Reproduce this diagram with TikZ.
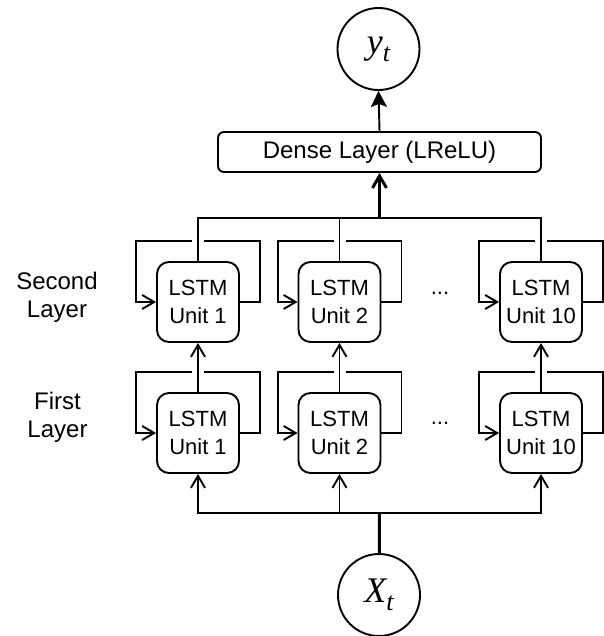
\documentclass[tikz,border=0pt]{standalone}
\usepackage{fontspec}
\setmainfont{Liberation Sans}
\newfontfamily\timesit{Liberation Serif}
\usetikzlibrary{arrows.meta}
\tikzset{
        >={Straight Barb[length=12pt,width=14pt]},
        wire/.style={line width=1.9pt},
        thickwire/.style={line width=3pt},
        lstmbox/.style={draw, line width=1.9pt, rounded corners=12pt, minimum width=82pt, minimum height=80pt, align=center, inner sep=0pt, font=\fontsize{22}{28}\selectfont},
        densebox/.style={draw, line width=1.9pt, rounded corners=6pt, minimum width=323pt, minimum height=40pt, inner sep=0pt, font=\fontsize{24}{28}\selectfont},
        varnode/.style={draw, circle, line width=1.9pt, minimum size=82pt, inner sep=0pt, font=\timesit\itshape\fontsize{36}{36}\selectfont},
        layerlabel/.style={align=center, inner sep=0pt, font=\fontsize{24}{28}\selectfont},
        dotsnode/.style={anchor=base, inner sep=0pt, font=\fontsize{22}{28}\selectfont}
}

\begin{document}
\begin{tikzpicture}[x=1pt,y=-1pt]
        \useasboundingbox (0,0) rectangle (603,636);
        \node[varnode] (yt) at (378.5,49) {\raisebox{-4pt}{y\raisebox{-8pt}{\fontsize{26}{26}\selectfont t}}};
        \node[densebox] (dense) at (379.5,152) {Dense Layer (LReLU)};
        \node[lstmbox] (s1) at (198,302) {LSTM\\Unit 1};
        \node[lstmbox] (s2) at (339.5,302) {LSTM\\Unit 2};
        \node[lstmbox] (s10) at (541,302) {LSTM\\Unit 10};
        \node[lstmbox] (f1) at (198,433) {LSTM\\Unit 1};
        \node[lstmbox] (f2) at (339.5,433) {LSTM\\Unit 2};
        \node[lstmbox] (f10) at (541,433) {LSTM\\Unit 10};
        \node[dotsnode] (sdots) at (440,294) {...};
        \node[dotsnode] (fdots) at (440,424) {...};
        \node[layerlabel] (slabel) at (57,297) {Second\\Layer};
        \node[layerlabel] (flabel) at (57.5,417) {First\\Layer};
        \node[varnode] (xt) at (379,595) {X\raisebox{-8pt}{\fontsize{26}{26}\selectfont t}};
        \coordinate (topbus) at (379.5,218);
        \coordinate (botbus) at (379.5,513);
        \draw[wire] (s1.east) -- ++(20,0) |- ([shift={(6,-20)}]s1.north);
        \draw[wire,->] ([shift={(-6,-20)}]s1.north) -| ([xshift=-20pt]s1.west) -- (s1.west);
        \draw[wire] (s2.east) -- ++(20,0) |- ([shift={(6,-20)}]s2.north);
        \draw[wire,->] ([shift={(-6,-20)}]s2.north) -| ([xshift=-20pt]s2.west) -- (s2.west);
        \draw[wire] (s10.east) -- ++(20,0) |- ([shift={(6,-20)}]s10.north);
        \draw[wire,->] ([shift={(-6,-20)}]s10.north) -| ([xshift=-20pt]s10.west) -- (s10.west);
        \draw[wire] (f1.east) -- ++(20,0) |- ([shift={(6,-20)}]f1.north);
        \draw[wire,->] ([shift={(-6,-20)}]f1.north) -| ([xshift=-20pt]f1.west) -- (f1.west);
        \draw[wire] (f2.east) -- ++(20,0) |- ([shift={(6,-20)}]f2.north);
        \draw[wire,->] ([shift={(-6,-20)}]f2.north) -| ([xshift=-20pt]f2.west) -- (f2.west);
        \draw[wire] (f10.east) -- ++(20,0) |- ([shift={(6,-20)}]f10.north);
        \draw[wire,->] ([shift={(-6,-20)}]f10.north) -| ([xshift=-20pt]f10.west) -- (f10.west);
        \draw[wire,->] (f1.north) -- (s1.south);
        \draw[wire,->] (f2.north) -- (s2.south);
        \draw[wire,->] (f10.north) -- (s10.south);
        \draw[wire] (s1.north) |- (topbus) -| (s10.north);
        \draw[wire] (s2.north) -- (s2.north |- topbus);
        \draw[thickwire,->] (topbus) -- (dense.south);
        \draw[wire,-{Stealth[length=16pt,width=16pt,inset=3pt]}] (dense.north) -- (yt.south);
        \draw[wire,->] (botbus) -| (f1.south);
        \draw[wire,->] (botbus) -| (f10.south);
        \draw[wire,->] (f2.south |- botbus) -- (f2.south);
        \draw[thickwire] (xt) -- (botbus);
\end{tikzpicture}
\end{document}
